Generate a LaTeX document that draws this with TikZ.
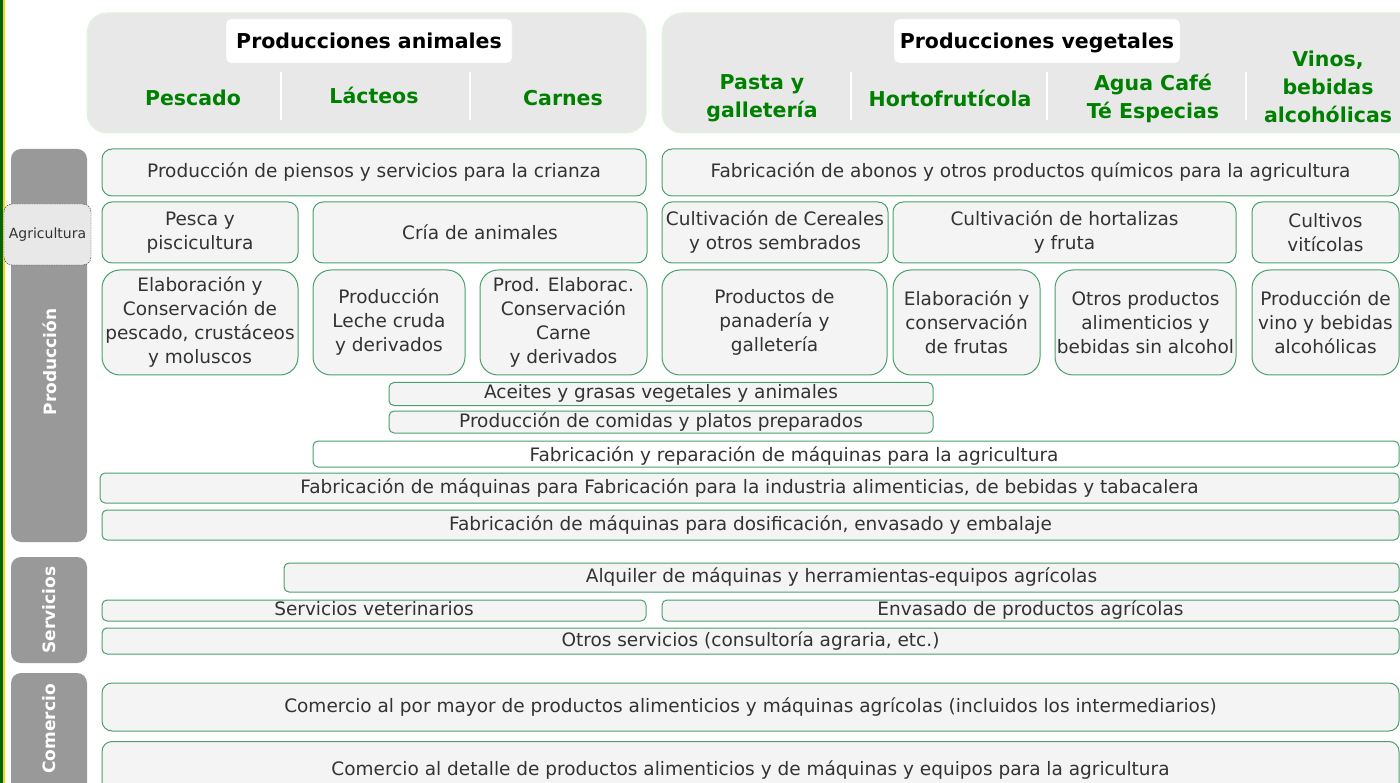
\documentclass[tikz,border=0pt]{standalone}
\usepackage{fontspec}
\setmainfont{DejaVu Sans}
\usepackage{tikz}
\usetikzlibrary{positioning}

\definecolor{boxgreen}{RGB}{72,160,108}
\definecolor{boxfill}{RGB}{244,244,244}
\definecolor{panelfill}{RGB}{232,232,232}
\definecolor{panelline}{RGB}{220,246,220}
\definecolor{hdrgreen}{RGB}{0,128,0}
\definecolor{txtgray}{RGB}{51,51,51}
\definecolor{barfill}{RGB}{153,153,153}
\definecolor{edgegreen}{RGB}{0,100,0}
\definecolor{edgeyellow}{RGB}{255,215,0}

\begin{document}
\begin{tikzpicture}[x=1pt,y=-1pt,
    cell/.style={draw=boxgreen, line width=1pt, fill=boxfill, rounded corners=10pt, inner sep=0pt,
        align=center, text=txtgray, font=\fontsize{18.5}{24}\selectfont},
    tallcell/.style={cell, rounded corners=18pt},
    thincell/.style={cell, rounded corners=5pt, text height=14pt, text depth=4pt},
    panel/.style={draw=panelline, fill=panelfill, rounded corners=20pt, line width=1pt},
    ttl/.style={draw=panelline, fill=white, rounded corners=5pt, inner sep=0pt,
        text height=18pt, text depth=3pt, font=\fontsize{20.5}{24}\selectfont\bfseries},
    hdr/.style={text=hdrgreen, align=center, font=\fontsize{20.5}{28}\selectfont\bfseries},
    sep/.style={draw=white, line width=1.5pt},
    catbar/.style={fill=barfill, rounded corners=10pt},
    catlbl/.style={text=white, rotate=90, font=\fontsize{17}{20}\selectfont\bfseries}]

\clip (0,0) rectangle (1400,783);

% left edge
\fill[edgegreen] (0,0) rectangle (3,783);
\fill[edgeyellow] (3,0) rectangle (5,783);

% category bars
\fill[catbar] (11,149) rectangle (87,542);
\fill[catbar] (11,557) rectangle (87,663);
\fill[catbar] (11,673) rectangle (87,810);
\node[catlbl] (produccion) at (50,362) {Producción};
\node[catlbl] (servicios) at (49,610) {Servicios};
\node[catlbl] (comercio) at (49,729) {Comercio};
\node[draw=txtgray, dash pattern=on 1.5pt off 1pt, fill=panelfill, rounded corners=8pt,
    minimum width=87pt, minimum height=61pt, inner sep=0pt, text=txtgray,
    font=\fontsize{14}{16}\selectfont] (agricultura) at (47.5,234.5) {Agricultura};

% header panels
\draw[panel] (87,13) rectangle (646,133);
\draw[panel] (662,13) rectangle (1430,133);
\node[ttl, minimum width=286pt, minimum height=44pt] (animales) at (369,41) {Producciones animales};
\node[ttl, minimum width=286pt, minimum height=44pt] (vegetales) at (1037,41) {Producciones vegetales};
\draw[sep] (281,72) -- (281,120);
\draw[sep] (470,72) -- (470,120);
\draw[sep] (851,72) -- (851,120);
\draw[sep] (1047,72) -- (1047,120);
\draw[sep] (1246,72) -- (1246,120);
\node[hdr] (pescado) at (193,98) {Pescado};
\node[hdr] (lacteos) at (374,95) {Lácteos};
\node[hdr] (carnes) at (563,98) {Carnes};
\node[hdr] (pasta) at (762,98) {Pasta y\\galletería};
\node[hdr] (horto) at (950,98) {Hortofrutícola};
\node[hdr] (agua) at (1153,98) {Agua Café\\Té Especias};
\node[hdr] (vinos) at (1328,87) {Vinos,\\bebidas\\alcohólicas};

% produccion
\node[cell, minimum width=544pt, minimum height=47pt] (piensos) at (374,172.5)
    {Producción de piensos y servicios para la crianza};
\node[cell, minimum width=737pt, minimum height=47pt] (abonos) at (1030.5,172.5)
    {Fabricación de abonos y otros productos químicos para la agricultura};
\node[cell, minimum width=196pt, minimum height=61pt] (pesca) at (200,232.5) {Pesca y\\piscicultura};
\node[cell, minimum width=334pt, minimum height=61pt] (cria) at (480,232.5) {Cría de animales};
\node[cell, minimum width=226pt, minimum height=61pt] (cereales) at (775,232.5)
    {Cultivación de Cereales\\y otros sembrados};
\node[cell, minimum width=343pt, minimum height=61pt] (hortalizas) at (1064.5,232.5)
    {Cultivación de hortalizas\\y fruta};
\node[cell, minimum width=147pt, minimum height=61pt] (viticolas) at (1325.5,232.5) {Cultivos\\vitícolas};
\node[tallcell, minimum width=196pt, minimum height=105pt] (elabpescado) at (200,322.5)
    {Elaboración y\\Conservación de\\pescado, crustáceos\\y moluscos};
\node[tallcell, minimum width=152pt, minimum height=105pt] (leche) at (389,322.5)
    {Producción\\Leche cruda\\y derivados};
\node[tallcell, minimum width=167pt, minimum height=105pt] (carne) at (563.5,322.5)
    {Prod. Elaborac.\\Conservación\\Carne\\y derivados};
\node[tallcell, minimum width=225pt, minimum height=105pt] (panaderia) at (774.5,322.5)
    {Productos de\\panadería y\\galletería};
\node[tallcell, minimum width=147pt, minimum height=105pt] (frutas) at (966.5,322.5)
    {Elaboración y\\conservación\\de frutas};
\node[tallcell, minimum width=181pt, minimum height=105pt] (otrosprod) at (1145.5,322.5)
    {Otros productos\\alimenticios y\\bebidas sin alcohol};
\node[tallcell, minimum width=147pt, minimum height=105pt] (vino) at (1325.5,322.5)
    {Producción de\\vino y bebidas\\alcohólicas};
\node[thincell, minimum width=544pt, minimum height=23pt] (aceites) at (661,394)
    {Aceites y grasas vegetales y animales};
\node[thincell, minimum width=544pt, minimum height=22pt] (comidas) at (661,422)
    {Producción de comidas y platos preparados};
\node[thincell, fill=white, minimum width=1086pt, minimum height=26pt] (reparacion) at (856,454) {};
\node[text=txtgray, font=\fontsize{18.5}{24}\selectfont] (reparaciontxt) at (794,456)
    {Fabricación y reparación de máquinas para la agricultura};
\node[thincell, minimum width=1299pt, minimum height=30pt] (industria) at (749.5,488)
    {Fabricación de máquinas para Fabricación para la industria alimenticias, de bebidas y tabacalera};
\node[thincell, minimum width=1297pt, minimum height=30pt] (envasado) at (750.5,525)
    {Fabricación de máquinas para dosificación, envasado y embalaje};

% servicios
\node[thincell, minimum width=1115pt, minimum height=29pt] (alquiler) at (841.5,577.5)
    {Alquiler de máquinas y herramientas-equipos agrícolas};
\node[thincell, minimum width=544pt, minimum height=21pt] (veterinarios) at (374,610.5)
    {Servicios veterinarios};
\node[thincell, minimum width=737pt, minimum height=21pt] (envagricola) at (1030.5,610.5)
    {Envasado de productos agrícolas};
\node[thincell, minimum width=1297pt, minimum height=26pt] (otrosserv) at (750.5,641)
    {Otros servicios (consultoría agraria, etc.)};

% comercio
\node[cell, minimum width=1297pt, minimum height=48pt] (mayor) at (750.5,707)
    {Comercio al por mayor de productos alimenticios y máquinas agrícolas (incluidos los intermediarios)};
\node[cell, anchor=north, minimum width=1297pt, minimum height=54pt, text depth=0pt] (detalle) at (750.5,741)
    {Comercio al detalle de productos alimenticios y de máquinas y equipos para la agricultura};
\end{tikzpicture}
\end{document}
